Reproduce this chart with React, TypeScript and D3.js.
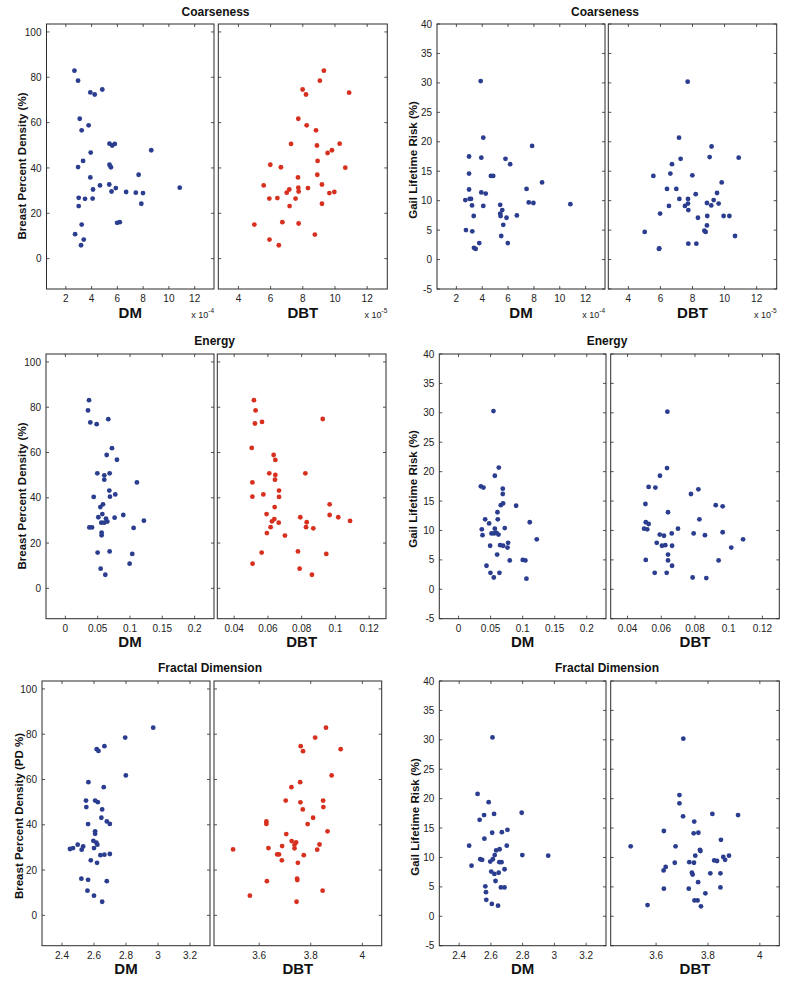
import React from "react";
import * as d3 from "d3";

const FONT = "'Liberation Sans', Arial, Helvetica, sans-serif";
const BLUE = "#2b3d8f";
const RED = "#d8301f";

// Axis limits
const pdLim: [number, number] = [-13.4, 103.5];
const gailLim: [number, number] = [-5, 40];
const coarseDMLim: [number, number] = [0.5, 13.5]; // x 1e-4
const coarseDBTLim: [number, number] = [2.75, 13.25]; // x 1e-5
const energyDMLim: [number, number] = [-0.03, 0.23];
const energyDBTLim: [number, number] = [0.03, 0.13];
const fractalDMLim: [number, number] = [2.275, 3.325];
const fractalDBTLim: [number, number] = [3.425, 4.075];

// Tick values
const pdTicks = [0, 20, 40, 60, 80, 100];
const gailTicks = [-5, 0, 5, 10, 15, 20, 25, 30, 35, 40];
const coarseDMTicks = [2, 4, 6, 8, 10, 12];
const coarseDBTTicks = [4, 6, 8, 10, 12];
const energyDMTicks = [0, 0.05, 0.1, 0.15, 0.2];
const energyDBTTicks = [0.04, 0.06, 0.08, 0.1, 0.12];
const fractalDMTicks = [2.4, 2.6, 2.8, 3, 3.2];
const fractalDBTTicks = [3.6, 3.8, 4];

type P = [number, number];

// Breast percent density vs coarseness (DM, x1e-4)
const pdCoarseDM: P[] = [
  [2.67, 82.9], [2.95, 78.5], [3.9, 73.3], [4.24, 72.4], [4.83, 74.6], [3.08, 61.7], [3.23, 56.6],
  [3.77, 58.8], [5.39, 50.7], [5.6, 49.9], [5.8, 50.6], [3.93, 46.8], [8.63, 47.8], [2.95, 40.4],
  [3.34, 43.1], [5.39, 41.4], [5.5, 40.3], [3.9, 35.8], [7.65, 37.0], [4.65, 32.3], [5.37, 32.7],
  [4.11, 30.5], [5.55, 29.6], [5.88, 31.1], [6.68, 29.4], [7.43, 29.1], [7.99, 28.9], [10.84, 31.3],
  [3.0, 26.8], [3.49, 26.4], [4.08, 26.5], [3.0, 23.2], [7.86, 24.2], [3.23, 15.0], [5.98, 15.8],
  [6.19, 16.1], [2.72, 10.8], [3.39, 8.4], [3.18, 5.9],
];
// Breast percent density vs coarseness (DBT, x1e-5)
const pdCoarseDBT: P[] = [
  [9.31, 82.9], [9.06, 78.5], [7.99, 74.6], [8.2, 72.4], [10.88, 73.2], [7.72, 61.7], [8.24, 58.8],
  [8.82, 56.6], [7.27, 50.6], [8.88, 49.9], [10.29, 50.7], [9.81, 47.8], [9.54, 46.6], [8.92, 43.1],
  [5.98, 41.4], [6.64, 40.3], [10.64, 40.1], [8.9, 37.0], [7.7, 35.8], [5.57, 32.3], [9.19, 32.7],
  [7.16, 30.5], [7.0, 29.1], [7.72, 31.3], [7.74, 29.6], [8.32, 31.1], [9.65, 28.9], [9.96, 29.4],
  [5.92, 26.5], [6.42, 26.7], [7.55, 26.5], [7.18, 23.2], [9.19, 24.2], [4.99, 15.0], [6.73, 16.1],
  [7.74, 15.5], [8.75, 10.6], [5.93, 8.4], [6.51, 5.9],
];
// Gail lifetime risk vs coarseness (DM)
const gailCoarseDM: P[] = [
  [3.88, 30.3], [4.08, 20.7], [7.86, 19.3], [2.98, 17.5], [3.93, 17.3], [5.8, 17.1], [6.16, 16.2],
  [2.98, 14.6], [4.67, 14.2], [4.85, 14.2], [8.63, 13.1], [2.98, 11.9], [3.93, 11.4], [4.27, 11.2],
  [7.43, 12.0], [2.69, 10.1], [3.03, 10.3], [3.13, 10.3], [3.21, 9.2], [4.08, 9.1], [5.39, 9.3],
  [7.6, 9.7], [7.96, 9.6], [10.82, 9.4], [5.55, 8.4], [5.39, 7.8], [5.42, 7.4], [5.88, 7.1],
  [6.68, 7.5], [3.34, 7.4], [5.63, 5.9], [2.74, 5.0], [3.23, 4.8], [5.47, 4.0], [3.77, 2.8],
  [5.98, 2.8], [3.36, 2.0], [3.49, 1.8],
];
// Gail lifetime risk vs coarseness (DBT)
const gailCoarseDBT: P[] = [
  [7.7, 30.2], [7.16, 20.7], [9.19, 19.2], [9.07, 17.4], [10.88, 17.3], [7.26, 17.1], [6.72, 16.2],
  [5.56, 14.2], [6.62, 14.6], [7.99, 14.3], [9.82, 13.1], [6.41, 12.0], [6.99, 12.0], [8.2, 11.1],
  [9.53, 11.3], [7.18, 10.3], [7.72, 10.3], [9.32, 10.1], [8.9, 9.6], [9.63, 9.5], [9.17, 9.2],
  [7.72, 9.5], [7.53, 9.1], [6.53, 9.1], [7.74, 8.4], [5.98, 7.8], [8.34, 7.1], [8.92, 7.4],
  [9.94, 7.4], [10.3, 7.4], [8.9, 5.8], [8.74, 4.9], [8.82, 4.7], [5.02, 4.7], [10.65, 4.0],
  [7.74, 2.7], [8.24, 2.7], [5.93, 1.9], [5.91, 1.8],
];
// Breast percent density vs energy (DM)
const pdEnergyDM: P[] = [
  [0.0366, 83.1], [0.035, 78.6], [0.0386, 73.3], [0.0484, 72.5], [0.0664, 74.7], [0.0721, 61.9],
  [0.0639, 58.9], [0.0798, 56.8], [0.0494, 50.8], [0.0602, 49.9], [0.0685, 50.8], [0.0602, 48.0],
  [0.1107, 46.8], [0.068, 43.2], [0.0772, 41.5], [0.0438, 40.4], [0.069, 40.5], [0.0582, 37.1],
  [0.0541, 35.9], [0.051, 31.4], [0.0572, 32.8], [0.0896, 32.4], [0.0762, 31.2], [0.0628, 30.8],
  [0.0649, 29.5], [0.0556, 29.0], [0.0602, 29.0], [0.1215, 29.9], [0.0371, 26.9], [0.0412, 26.9],
  [0.1056, 26.7], [0.0561, 24.6], [0.0561, 23.4], [0.0499, 15.8], [0.0685, 16.3], [0.1035, 15.2],
  [0.0994, 10.9], [0.0546, 8.7], [0.0618, 6.0],
];
// Breast percent density vs energy (DBT)
const pdEnergyDBT: P[] = [
  [0.0517, 83.1], [0.0527, 78.6], [0.0523, 72.8], [0.0565, 73.5], [0.0925, 74.8], [0.0504, 62.0],
  [0.0634, 58.9], [0.0644, 56.7], [0.0608, 50.8], [0.0644, 50.1], [0.0642, 48.0], [0.0822, 50.8],
  [0.0508, 46.8], [0.0666, 43.2], [0.0573, 41.5], [0.0508, 40.5], [0.0666, 40.4], [0.0966, 37.1],
  [0.064, 35.9], [0.0592, 32.8], [0.0966, 32.4], [0.0792, 31.4], [0.1017, 31.4], [0.1087, 29.8],
  [0.0638, 30.6], [0.0624, 29.6], [0.0664, 29.0], [0.083, 29.2], [0.0616, 27.0], [0.0826, 27.0],
  [0.0869, 26.5], [0.0594, 24.4], [0.0701, 23.3], [0.0563, 15.8], [0.0778, 16.3], [0.0946, 15.2],
  [0.0509, 10.9], [0.0788, 8.7], [0.0861, 6.0],
];
// Gail lifetime risk vs energy (DM)
const gailEnergyDM: P[] = [
  [0.0545, 30.3], [0.0628, 20.7], [0.0566, 19.3], [0.0348, 17.5], [0.0389, 17.3], [0.069, 17.1],
  [0.069, 16.2], [0.0659, 14.3], [0.0695, 14.6], [0.0898, 14.2], [0.0607, 13.1], [0.0415, 11.9],
  [0.0612, 11.9], [0.0477, 11.2], [0.1111, 11.4], [0.0363, 10.2], [0.0566, 10.3], [0.0721, 10.4],
  [0.0374, 9.2], [0.0514, 9.5], [0.0555, 9.5], [0.0592, 9.6], [0.0623, 9.3], [0.122, 8.5],
  [0.0493, 7.4], [0.0649, 7.5], [0.0695, 7.4], [0.0773, 7.9], [0.0763, 7.1], [0.0602, 5.9],
  [0.0799, 4.9], [0.1002, 5.0], [0.1043, 4.9], [0.0436, 4.0], [0.0498, 2.8], [0.0638, 2.8],
  [0.055, 2.0], [0.1059, 1.8],
];
// Gail lifetime risk vs energy (DBT)
const gailEnergyDBT: P[] = [
  [0.0636, 30.2], [0.0634, 20.6], [0.0592, 19.3], [0.0525, 17.4], [0.0565, 17.3], [0.082, 17.0],
  [0.0776, 16.2], [0.0506, 14.5], [0.0923, 14.3], [0.0964, 14.1], [0.064, 13.1], [0.0826, 11.9],
  [0.0508, 11.4], [0.0525, 11.1], [0.0498, 10.3], [0.0517, 10.2], [0.0699, 10.3], [0.0591, 9.3],
  [0.0616, 9.1], [0.0662, 9.5], [0.0792, 9.5], [0.0859, 9.2], [0.0964, 9.7], [0.1085, 8.5],
  [0.0573, 7.9], [0.0604, 7.4], [0.0624, 7.5], [0.0664, 7.4], [0.1015, 7.1], [0.064, 5.9],
  [0.0508, 5.0], [0.064, 4.9], [0.094, 4.9], [0.0664, 4.0], [0.0561, 2.8], [0.0632, 2.8],
  [0.0786, 2.0], [0.0867, 1.9],
];
// Breast percent density vs fractal dimension (DM)
const pdFractalDM: P[] = [
  [2.97, 82.9], [2.795, 78.5], [2.665, 74.7], [2.617, 73.4], [2.628, 72.6], [2.799, 61.8], [2.565, 58.8],
  [2.661, 56.6], [2.55, 50.7], [2.607, 50.7], [2.624, 50.0], [2.552, 47.8], [2.651, 46.8], [2.646, 43.1],
  [2.68, 41.5], [2.699, 40.4], [2.563, 40.3], [2.607, 37.1], [2.607, 36.0], [2.596, 32.9], [2.615, 32.1],
  [2.621, 31.2], [2.532, 30.4], [2.45, 29.3], [2.469, 29.7], [2.498, 31.2], [2.523, 29.0], [2.6, 29.7],
  [2.64, 26.6], [2.665, 26.8], [2.699, 27.1], [2.58, 24.3], [2.619, 23.2], [2.521, 16.2], [2.563, 15.7],
  [2.68, 15.1], [2.559, 10.9], [2.6, 8.7], [2.651, 6.0],
];
// Breast percent density vs fractal dimension (DBT)
const pdFractalDBT: P[] = [
  [3.859, 82.9], [3.817, 78.5], [3.761, 74.7], [3.77, 72.5], [3.916, 73.4], [3.881, 61.8], [3.759, 58.8],
  [3.725, 56.6], [3.703, 50.7], [3.76, 49.9], [3.848, 50.7], [3.849, 47.8], [3.769, 46.8], [3.809, 43.1],
  [3.628, 41.5], [3.628, 40.4], [3.788, 40.3], [3.865, 37.1], [3.705, 35.9], [3.726, 32.8], [3.743, 32.2],
  [3.737, 31.2], [3.834, 31.3], [3.689, 30.6], [3.636, 29.7], [3.499, 29.1], [3.737, 29.6], [3.825, 29.0],
  [3.67, 26.9], [3.677, 26.9], [3.773, 26.6], [3.688, 24.3], [3.75, 23.2], [3.63, 15.1], [3.747, 16.2],
  [3.748, 15.6], [3.846, 10.9], [3.564, 8.7], [3.745, 6.0],
];
// Gail lifetime risk vs fractal dimension (DM)
const gailFractalDM: P[] = [
  [2.61, 30.4], [2.516, 20.8], [2.586, 19.4], [2.794, 17.6], [2.62, 17.4], [2.557, 17.2], [2.529, 16.4],
  [2.704, 14.7], [2.669, 14.3], [2.608, 14.2], [2.559, 13.2], [2.463, 12.0], [2.7, 12.0], [2.633, 11.2],
  [2.655, 11.4], [2.624, 10.4], [2.798, 10.4], [2.961, 10.3], [2.533, 9.7], [2.545, 9.6], [2.596, 9.3],
  [2.612, 9.7], [2.653, 9.2], [2.667, 9.2], [2.478, 8.6], [2.686, 8.0], [2.602, 7.6], [2.622, 7.2],
  [2.649, 7.4], [2.629, 6.0], [2.565, 5.1], [2.663, 4.9], [2.686, 4.9], [2.569, 4.1], [2.571, 2.8],
  [2.606, 2.1], [2.645, 1.8],
];
// Gail lifetime risk vs fractal dimension (DBT)
const gailFractalDBT: P[] = [
  [3.705, 30.2], [3.69, 20.6], [3.69, 19.2], [3.817, 17.4], [3.916, 17.2], [3.704, 17.0], [3.747, 16.1],
  [3.63, 14.5], [3.745, 14.1], [3.763, 14.2], [3.85, 13.0], [3.502, 11.9], [3.675, 11.9], [3.769, 11.3],
  [3.771, 11.1], [3.751, 10.3], [3.859, 10.1], [3.881, 10.3], [3.866, 9.6], [3.824, 9.5], [3.835, 9.4],
  [3.728, 9.2], [3.746, 9.1], [3.672, 9.1], [3.637, 8.4], [3.629, 7.8], [3.738, 7.4], [3.741, 7.1],
  [3.809, 7.3], [3.848, 7.3], [3.762, 5.8], [3.63, 4.7], [3.726, 4.7], [3.848, 4.9], [3.79, 3.9],
  [3.748, 2.7], [3.76, 2.7], [3.773, 1.7], [3.567, 1.9],
];

type PanelProps = {
  x0: number; x1: number; y0: number; y1: number;
  xDom: [number, number]; yDom: [number, number];
  xTicks: number[]; yTicks: number[];
  yLabels: boolean;
  data: P[]; color: string;
  xLabel: string; expo?: string;
};

function Panel(p: PanelProps) {
  const x = d3.scaleLinear().domain(p.xDom).range([p.x0, p.x1]);
  const y = d3.scaleLinear().domain(p.yDom).range([p.y1, p.y0]);
  const tl = 3;
  const stroke = "#2b2b2b";
  const fmt = (v: number) => String(v);
  return (
    <g>
      <rect x={p.x0} y={p.y0} width={p.x1 - p.x0} height={p.y1 - p.y0} fill="#fff" />
      {p.xTicks.map((t, i) => (
        <g key={"xt" + i}>
          <line x1={x(t)} x2={x(t)} y1={p.y1} y2={p.y1 - tl} stroke={stroke} strokeWidth={0.8} />
          <line x1={x(t)} x2={x(t)} y1={p.y0} y2={p.y0 + tl} stroke={stroke} strokeWidth={0.8} />
          <text x={x(t)} y={p.y1 + 13} textAnchor="middle" fontSize={10} fill="#222" fontFamily={FONT}>
            {fmt(t)}
          </text>
        </g>
      ))}
      {p.yTicks.map((t, i) => (
        <g key={"yt" + i}>
          <line x1={p.x0} x2={p.x0 + tl} y1={y(t)} y2={y(t)} stroke={stroke} strokeWidth={0.8} />
          <line x1={p.x1} x2={p.x1 - tl} y1={y(t)} y2={y(t)} stroke={stroke} strokeWidth={0.8} />
          {p.yLabels && (
            <text x={p.x0 - 5} y={y(t) + 3.6} textAnchor="end" fontSize={10} fill="#222" fontFamily={FONT}>
              {fmt(t)}
            </text>
          )}
        </g>
      ))}
      {p.data.map(([a, b], i) => (
        <circle key={"pt" + i} cx={x(a)} cy={y(b)} r={2.4} fill={p.color} />
      ))}
      <rect x={p.x0} y={p.y0} width={p.x1 - p.x0} height={p.y1 - p.y0} fill="none" stroke={stroke} strokeWidth={1} />
      <text x={(p.x0 + p.x1) / 2} y={p.y1 + 28.7} textAnchor="middle" fontSize={15} fontWeight="bold" fill="#111" fontFamily={FONT}>
        {p.xLabel}
      </text>
      {p.expo && (
        <text x={p.x1} y={p.y1 + 29} textAnchor="end" fontSize={9} fill="#222" fontFamily={FONT}>
          x 10<tspan dy={-5} fontSize={6.5}>{p.expo}</tspan>
        </text>
      )}
    </g>
  );
}

function YLabel({ cx, cy, text }: { cx: number; cy: number; text: string }) {
  return (
    <text
      transform={`translate(${cx + 4},${cy}) rotate(-90)`}
      textAnchor="middle"
      fontSize={11.5}
      fontWeight="bold"
      fill="#111"
      fontFamily={FONT}
    >
      {text}
    </text>
  );
}

function Title({ cx, y, text }: { cx: number; y: number; text: string }) {
  return (
    <text x={cx} y={y} textAnchor="middle" fontSize={12} fontWeight="bold" fill="#111" fontFamily={FONT}>
      {text}
    </text>
  );
}

export default function App() {
  return (
    <svg width={800} height={982} style={{ position: "absolute", left: 0, top: 0, background: "#fff" }}>
      <rect x={0} y={0} width={800} height={982} fill="#fff" />
      {/* Row 1: Coarseness */}
      <Title cx={215.5} y={15.7} text="Coarseness" />
      <Title cx={605} y={15.7} text="Coarseness" />
      <YLabel cx={21.7} cy={166} text="Breast Percent Density (%)" />
      <YLabel cx={413} cy={160} text="Gail Lifetime Risk (%)" />
      <Panel x0={46.5} x1={214} y0={24} y1={289} xDom={coarseDMLim} yDom={pdLim} xTicks={coarseDMTicks} yTicks={pdTicks} yLabels data={pdCoarseDM} color={BLUE} xLabel="DM" expo="-4" />
      <Panel x0={218.3} x1={387.3} y0={24} y1={289} xDom={coarseDBTLim} yDom={pdLim} xTicks={coarseDBTTicks} yTicks={pdTicks} yLabels={false} data={pdCoarseDBT} color={RED} xLabel="DBT" expo="-5" />
      <Panel x0={437} x1={605} y0={24} y1={289} xDom={coarseDMLim} yDom={gailLim} xTicks={coarseDMTicks} yTicks={gailTicks} yLabels data={gailCoarseDM} color={BLUE} xLabel="DM" expo="-4" />
      <Panel x0={608.3} x1={776.7} y0={24} y1={289} xDom={coarseDBTLim} yDom={gailLim} xTicks={coarseDBTTicks} yTicks={gailTicks} yLabels={false} data={gailCoarseDBT} color={BLUE} xLabel="DBT" expo="-5" />

      {/* Row 2: Energy */}
      <Title cx={214.7} y={345} text="Energy" />
      <Title cx={607} y={345} text="Energy" />
      <YLabel cx={21.7} cy={496} text="Breast Percent Density (%)" />
      <YLabel cx={413} cy={489} text="Gail Lifetime Risk (%)" />
      <Panel x0={46} x1={214} y0={354} y1={618.7} xDom={energyDMLim} yDom={pdLim} xTicks={energyDMTicks} yTicks={pdTicks} yLabels data={pdEnergyDM} color={BLUE} xLabel="DM" />
      <Panel x0={217.3} x1={386} y0={354} y1={618.7} xDom={energyDBTLim} yDom={pdLim} xTicks={energyDBTTicks} yTicks={pdTicks} yLabels={false} data={pdEnergyDBT} color={RED} xLabel="DBT" />
      <Panel x0={439.3} x1={606} y0={354} y1={618.7} xDom={energyDMLim} yDom={gailLim} xTicks={energyDMTicks} yTicks={gailTicks} yLabels data={gailEnergyDM} color={BLUE} xLabel="DM" />
      <Panel x0={610.7} x1={779.3} y0={354} y1={618.7} xDom={energyDBTLim} yDom={gailLim} xTicks={energyDBTTicks} yTicks={gailTicks} yLabels={false} data={gailEnergyDBT} color={BLUE} xLabel="DBT" />

      {/* Row 3: Fractal Dimension */}
      <Title cx={210} y={672.3} text="Fractal Dimension" />
      <Title cx={607} y={672.3} text="Fractal Dimension" />
      <YLabel cx={18.5} cy={816} text="Breast Percent Density (PD %)" />
      <YLabel cx={415} cy={817} text="Gail Lifetime Risk (%)" />
      <Panel x0={42} x1={210} y0={681} y1={945.7} xDom={fractalDMLim} yDom={pdLim} xTicks={fractalDMTicks} yTicks={pdTicks} yLabels data={pdFractalDM} color={BLUE} xLabel="DM" />
      <Panel x0={214} x1={381.7} y0={681} y1={945.7} xDom={fractalDBTLim} yDom={pdLim} xTicks={fractalDBTTicks} yTicks={pdTicks} yLabels={false} data={pdFractalDBT} color={RED} xLabel="DBT" />
      <Panel x0={439.3} x1={606} y0={681} y1={945.7} xDom={fractalDMLim} yDom={gailLim} xTicks={fractalDMTicks} yTicks={gailTicks} yLabels data={gailFractalDM} color={BLUE} xLabel="DM" />
      <Panel x0={610.7} x1={779.3} y0={681} y1={945.7} xDom={fractalDBTLim} yDom={gailLim} xTicks={fractalDBTTicks} yTicks={gailTicks} yLabels={false} data={gailFractalDBT} color={BLUE} xLabel="DBT" />
    </svg>
  );
}
